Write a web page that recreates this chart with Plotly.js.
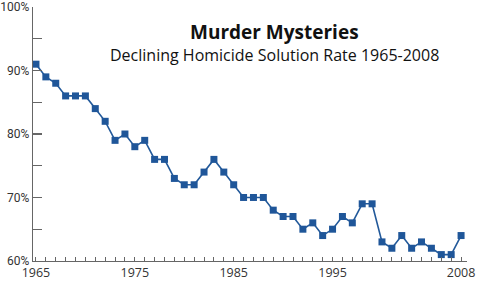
<!DOCTYPE html>
<html>
<head>
<meta charset="utf-8">
<script src="https://cdn.plot.ly/plotly-3.0.1.min.js"></script>
<style>html,body{margin:0;padding:0;background:#fff;}#chart{width:480px;height:285px;}</style>
</head>
<body>
<div id="chart"></div>
<script>
const years = [1965,1966,1967,1968,1969,1970,1971,1972,1973,1974,1975,1976,1977,1978,1979,1980,1981,1982,1983,1984,1985,1986,1987,1988,1989,1990,1991,1992,1993,1994,1995,1996,1997,1998,1999,2000,2001,2002,2003,2004,2005,2006,2007,2008];
const solutionRate = [91,89,88,86,86,86,84,82,79,80,78,79,76,76,73,72,72,74,76,74,72,70,70,70,68,67,67,65,66,64,65,67,66,69,69,63,62,64,62,63,62,61,61,64];
const xLabelYears = [1965,1975,1985,1995,2008];
const yTickValues = [60,65,70,75,80,85,90,95,100];
const yLabelValues = [60,70,80,90,100];
const titleText = "Murder Mysteries";
const subtitleText = "Declining Homicide Solution Rate 1965-2008";

const xTickText = years.map(y => xLabelYears.includes(y) ? String(y) : "");
const yTickText = yTickValues.map(v => yLabelValues.includes(v) ? v + "%" : "");

const trace = {
  x: years, y: solutionRate, type: "scatter", mode: "lines+markers",
  line: {color: "#22599a", width: 1.6},
  marker: {symbol: "square", size: 7, color: "#1f5699", line: {width: 0}},
  hoverinfo: "skip", cliponaxis: false
};

const layout = {
  width: 480, height: 285,
  margin: {l: 33, r: 13, t: 7, b: 24},
  paper_bgcolor: "#fff", plot_bgcolor: "#fff",
  showlegend: false,
  font: {family: "Open Sans, sans-serif", color: "#333", size: 12},
  xaxis: {
    range: [1964.7, 2008.6], showgrid: false, zeroline: false,
    showline: true, linecolor: "#666", linewidth: 1.3,
    tickmode: "array", tickvals: years, ticktext: xTickText,
    ticks: "inside", ticklen: 4, tickwidth: 1, tickcolor: "#666",
    tickangle: 0, tickfont: {size: 12.5, color: "#333"}, ticklabeloverflow: "allow"
  },
  yaxis: {
    range: [59.99, 100.01], showgrid: false, zeroline: false,
    showline: true, linecolor: "#666", linewidth: 1.3,
    tickmode: "array", tickvals: yTickValues, ticktext: yTickText,
    ticks: "inside", ticklen: 9, tickwidth: 1.3, tickcolor: "#666",
    tickfont: {family: "Roboto, sans-serif", size: 12, color: "#333"}, ticklabelstandoff: 0, ticklabeloverflow: "allow"
  },
  annotations: [
    {text: "<b>" + titleText + "</b>", xref: "paper", yref: "paper", x: 0.556, y: 0.9, xanchor: "center", yanchor: "middle", showarrow: false, font: {size: 19, color: "#111"}},
    {text: subtitleText, xref: "paper", yref: "paper", x: 0.556, y: 0.812, xanchor: "center", yanchor: "middle", showarrow: false, font: {size: 16, color: "#111"}}
  ]
};

Plotly.newPlot("chart", [trace], layout, {displayModeBar: false, staticPlot: true});
</script>
</body>
</html>
